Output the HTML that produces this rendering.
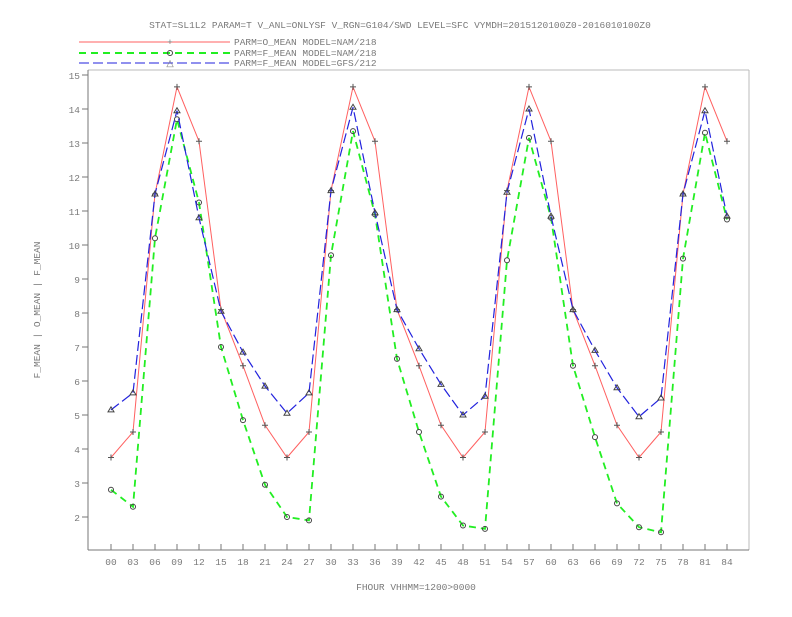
<!DOCTYPE html>
<html><head><meta charset="utf-8"><style>
body{margin:0;background:#fff}
svg text{font-family:"Liberation Mono",monospace;fill:#7a7a7a;font-size:9.5px}
</style></head><body>
<svg id="c" width="792" height="612" xmlns="http://www.w3.org/2000/svg">
<text x="400" y="28" text-anchor="middle">STAT=SL1L2 PARAM=T V_ANL=ONLYSF V_RGN=G104/SWD LEVEL=SFC VYMDH=2015120100Z0-2016010100Z0</text>
<g>
<g><line x1="79" y1="42" x2="230" y2="42" stroke="#ff6060" stroke-width="1"/><text x="170" y="45" text-anchor="middle" font-size="9">+</text><text x="234" y="45">PARM=O_MEAN MODEL=NAM/218</text></g>
<g><line x1="79" y1="53" x2="230" y2="53" stroke="#22ee22" stroke-width="2" stroke-dasharray="7,5"/><circle cx="170" cy="53" r="2.5" fill="none" stroke="#444"/><text x="234" y="56">PARM=F_MEAN MODEL=NAM/218</text></g>
<g><line x1="79" y1="63" x2="230" y2="63" stroke="#2222dd" stroke-width="1" stroke-dasharray="10,4"/><text x="170" y="66" text-anchor="middle" font-size="8">△</text><text x="234" y="66">PARM=F_MEAN MODEL=GFS/212</text></g>
</g>
<line x1="88" y1="70" x2="749" y2="70" stroke="#bbb"/>
<line x1="749" y1="70" x2="749" y2="550" stroke="#bbb"/>
<line x1="88" y1="70" x2="88" y2="550" stroke="#777"/>
<line x1="88" y1="550" x2="749" y2="550" stroke="#777"/>
<g id="yt"></g><g id="xt"></g><g id="series"></g>
<text x="40" y="310" text-anchor="middle" transform="rotate(-90 40 310)">F_MEAN | O_MEAN | F_MEAN</text>
<text x="416" y="590" text-anchor="middle">FHOUR VHHMM=1200&gt;0000</text>
</svg>
<script>
const categories=["00","03","06","09","12","15","18","21","24","27","30","33","36","39","42","45","48","51","54","57","60","63","66","69","72","75","78","81","84"];
const oMeanNam=[3.75,4.5,11.5,14.65,13.05,8.1,6.45,4.7,3.75,4.5,11.6,14.65,13.05,8.1,6.45,4.7,3.75,4.5,11.6,14.65,13.05,8.1,6.45,4.7,3.75,4.5,11.5,14.65,13.05];
const fMeanNam=[2.8,2.3,10.2,13.7,11.25,7.0,4.85,2.95,2.0,1.9,9.7,13.35,10.9,6.65,4.5,2.6,1.75,1.65,9.55,13.15,10.8,6.45,4.35,2.4,1.7,1.55,9.6,13.3,10.75];
const fMeanGfs=[5.15,5.65,11.5,13.95,10.8,8.05,6.85,5.85,5.05,5.65,11.6,14.05,10.95,8.1,6.95,5.9,5.0,5.55,11.55,14.0,10.85,8.1,6.9,5.8,4.95,5.5,11.5,13.95,10.85];
const yTicks=[2,3,4,5,6,7,8,9,10,11,12,13,14,15];
const NS="http://www.w3.org/2000/svg";
const xs=i=>111+i*22;
const ys=v=>517-(v-2)*34;
function mk(t,a,p){const e=document.createElementNS(NS,t);for(const k in a)e.setAttribute(k,a[k]);p.appendChild(e);return e;}
const yt=document.getElementById('yt');
yTicks.forEach(v=>{
 const l=mk('line',{x1:82,x2:88,y1:ys(v),y2:ys(v),stroke:'#777'},yt);
 
 
 const t=mk('text',{x:80,y:ys(v)+4,'text-anchor':'end'},yt);t.textContent=v;
 
 
});
const xt=document.getElementById('xt');
categories.forEach((c,i)=>{
 const l=mk('line',{x1:xs(i),x2:xs(i),y1:550,y2:544,stroke:'#777'},xt);
 
 
 const t=mk('text',{x:xs(i),y:565,'text-anchor':'middle'},xt);t.textContent=c;
 
 
});
const sg=document.getElementById('series');
function series(vals,color,w,dash,marker,name){
 const g=mk('g',{},sg);
 
 
 const p=mk('polyline',{points:vals.map((v,i)=>xs(i)+','+ys(v)).join(' '),fill:'none',stroke:color,'stroke-width':w,'stroke-dasharray':dash},g);
 
 
 vals.forEach((v,i)=>{
  let m;
  if(marker==='plus'){m=mk('path',{d:`M${xs(i)-3},${ys(v)}h6M${xs(i)},${ys(v)-3}v6`,stroke:'#555','stroke-width':1},g);}
  else if(marker==='circle'){m=mk('circle',{cx:xs(i),cy:ys(v),r:2.5,fill:'none',stroke:'#444'},g);}
  else {m=mk('path',{d:`M${xs(i)},${ys(v)-3}l3,5h-6z`,fill:'none',stroke:'#444'},g);}
  
  
 });
}
series(oMeanNam,'#ff6060',1,'none','plus','series-o-mean-nam');
series(fMeanNam,'#22ee22',1.8,'7,5','circle','series-f-mean-nam');
series(fMeanGfs,'#2222dd',1.2,'10,4','tri','series-f-mean-gfs');
</script>
</body></html>
